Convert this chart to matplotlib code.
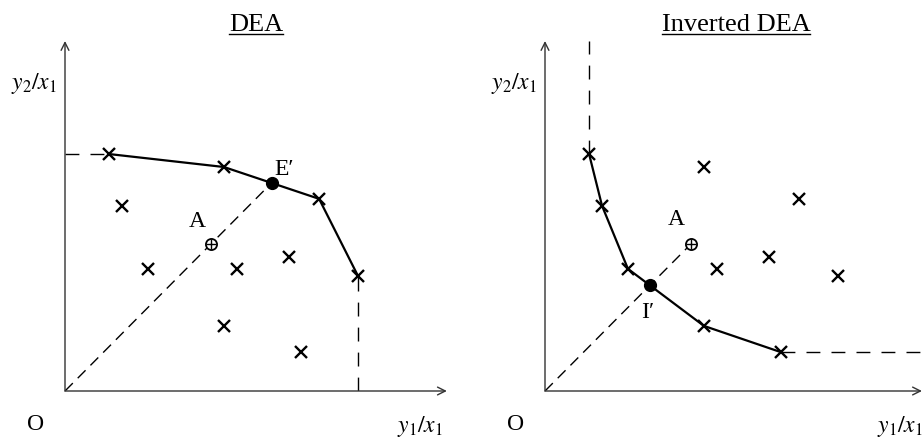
import numpy as np
import matplotlib
matplotlib.use('Agg')
import matplotlib.pyplot as plt
from matplotlib.lines import Line2D

plt.rcParams['font.family'] = ['Liberation Serif', 'DejaVu Serif']
plt.rcParams['mathtext.fontset'] = 'stix'

# 10 DMU (y1/x1, y2/x1) — same data in both panels
dmu_x = [1.26, 1.63, 2.37, 4.54, 4.91, 6.40, 4.54, 6.74, 7.26, 8.37]
dmu_y = [6.77, 5.29, 3.49, 6.40, 3.49, 3.83, 1.86, 1.11, 5.49, 3.29]
# index of the frontier points
dea_front = [0, 3, 8, 9]
inv_front = [0, 1, 2, 6, 7]
# evaluated unit A
a_x, a_y = 4.17, 4.20

PX = 35.0          # pixels per unit
W_L, W_R, H = 10.91, 10.77, 10.0


def ray_hit(fx, fy):
    # intersection of ray O->A with the piecewise frontier
    for i in range(len(fx) - 1):
        x0, y0, x1, y1 = fx[i], fy[i], fx[i + 1], fy[i + 1]
        M = np.array([[a_x, -(x1 - x0)], [a_y, -(y1 - y0)]])
        s, t = np.linalg.solve(M, [x0, y0])
        if 0 <= t <= 1:
            return s * a_x, s * a_y
    return None


def panel(ax, front, title, proj_lab, proj_off, xmax):
    ax.set_xlim(0, xmax)
    ax.set_ylim(0, H)
    ax.axis('off')
    # axes with arrows
    arr = dict(arrowstyle='->', lw=1.0, color='#333333', mutation_scale=14, shrinkA=0, shrinkB=0)
    ax.annotate('', xy=(xmax, 0), xytext=(0, 0), arrowprops=arr, annotation_clip=False)
    ax.annotate('', xy=(0, H), xytext=(0, 0), arrowprops=arr, annotation_clip=False)

    fx = [dmu_x[i] for i in front]
    fy = [dmu_y[i] for i in front]
    px, py = ray_hit(fx, fy)

    ax.plot(dmu_x, dmu_y, 'x', color='black', ms=9, mew=1.7, clip_on=False, zorder=4)
    ax.plot(fx, fy, '-', color='black', lw=1.6, zorder=3)
    ax.plot(px, py, 'o', color='black', ms=8.5, zorder=5)

    d_diag = (0, (8, 5))
    d_long = (0, (10, 8))
    if title == 'DEA':
        ax.plot([0, fx[0]], [fy[0], fy[0]], color='black', lw=1, ls=d_long)
        ax.plot([fx[-1], fx[-1]], [0, fy[-1]], color='black', lw=1, ls=d_long)
        ax.plot([0, px], [0, py], color='black', lw=1, ls=d_diag)
    else:
        ax.plot([fx[0], fx[0]], [fy[0], H], color='black', lw=1, ls=d_long, clip_on=False)
        ax.plot([fx[-1], xmax], [fy[-1], fy[-1]], color='black', lw=1, ls=d_long, clip_on=False)
        ax.plot([0, a_x], [0, a_y], color='black', lw=1, ls=d_diag)

    ax.plot(a_x, a_y, 'o', mfc='white', mec='black', ms=8, mew=1.3, zorder=6)
    ax.plot(a_x, a_y, '+', color='black', ms=6.5, mew=1.0, zorder=7)

    ax.text(proj_off[0], proj_off[1], proj_lab, fontsize=17, ha='center', va='center')
    ax.text(-0.83, -0.94, 'O', fontsize=17, ha='center', va='center')
    ax.text(-0.88, 8.8, r'$y_2/x_1$', fontsize=17, ha='center', va='center')
    ax.text(10.14, -0.98, r'$y_1/x_1$', fontsize=17, ha='center', va='center')
    t = ax.text(5.46, 10.49, title, fontsize=19, ha='center', va='center')
    return t


fig = plt.figure(figsize=(9.23, 4.39), dpi=100)
ax1 = fig.add_axes([65 / 923, 47 / 439, W_L * PX / 923, H * PX / 439])
ax2 = fig.add_axes([545 / 923, 47 / 439, W_R * PX / 923, H * PX / 439])

t1 = panel(ax1, dea_front, 'DEA', "E\u2032", (6.25, 6.37), W_L)
ax1.text(3.77, 4.86, 'A', fontsize=17, ha='center', va='center')
t2 = panel(ax2, inv_front, 'Inverted DEA', "I\u2032", (2.94, 2.26), W_R)
ax2.text(3.74, 4.94, 'A', fontsize=17, ha='center', va='center')

# underline the titles
fig.canvas.draw()
r = fig.canvas.get_renderer()
for t in (t1, t2):
    bb = t.get_window_extent(r)
    y = (bb.y0 + 1) / fig.bbox.height
    fig.add_artist(Line2D([bb.x0 / fig.bbox.width, bb.x1 / fig.bbox.width], [y, y],
                          color='black', lw=1.0))

fig.savefig('out.png', dpi=100)
